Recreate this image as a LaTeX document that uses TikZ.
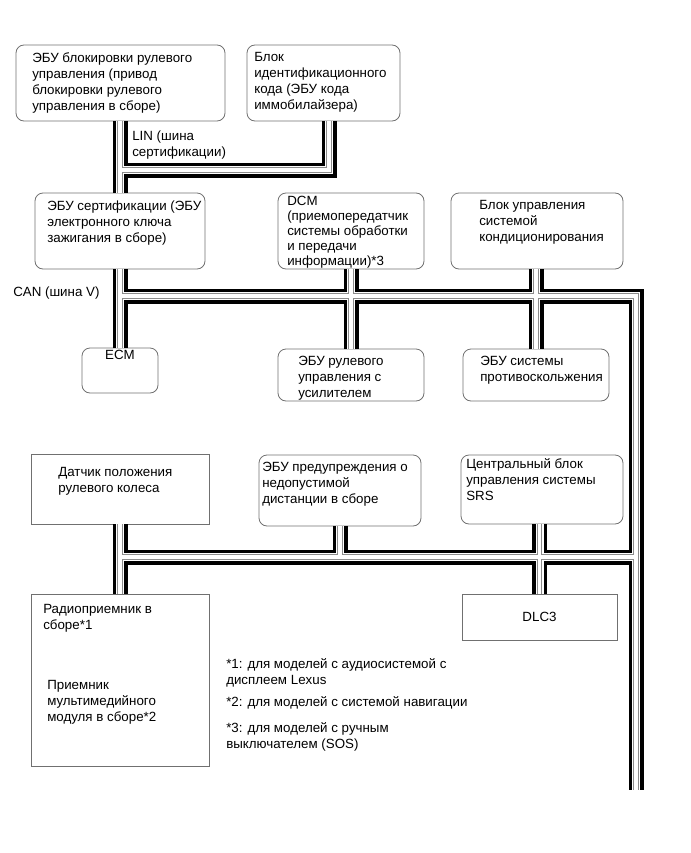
\documentclass[tikz,border=0pt]{standalone}
\usepackage{fontspec}
\setmainfont{Liberation Sans}
\usetikzlibrary{fit,positioning}
\definecolor{BoxGrey}{HTML}{707070}
\definecolor{WireGrey}{HTML}{8C8C8C}
\tikzset{
  ecu/.style={draw=BoxGrey,line width=0.6pt,rounded corners=6pt,inner sep=0pt},
  plainbox/.style={draw=BoxGrey,line width=0.6pt,inner sep=0pt},
  lbl/.style={font=\fontsize{10}{12}\selectfont,align=left,inner sep=0pt,anchor=north west},
}
\begin{document}
\begin{tikzpicture}[x=0.75pt,y=-0.75pt]
  \useasboundingbox (0,0) rectangle (690,853);
  % blocks
  \node[ecu,fit={(16,45) (225,121)}] (lock) {};
  \node[ecu,fit={(247,45) (400,121)}] (immo) {};
  \node[ecu,fit={(35,193) (205,269)}] (cert) {};
  \node[ecu,fit={(278,193) (424,269)}] (dcm) {};
  \node[ecu,fit={(451,193) (623,269)}] (clim) {};
  \node[ecu,fit={(82,348) (158,393)}] (ecm) {};
  \node[ecu,fit={(278,349) (424,401)}] (eps) {};
  \node[ecu,fit={(463,349) (609,401)}] (vsc) {};
  \node[plainbox,fit={(31,454) (209,524)}] (sas) {};
  \node[ecu,fit={(259,455) (421,526)}] (pcs) {};
  \node[ecu,fit={(461,455) (623,524)}] (srs) {};
  \node[plainbox,fit={(31,594) (209,766)}] (radio) {};
  \node[plainbox,fit={(462,594) (617,640)}] (dlc) {};
  % texts
  \node[lbl] (locktxt) at (32,52) {ЭБУ блокировки рулевого\\управления (привод\\блокировки рулевого\\управления в сборе)};
  \node[lbl] (immotxt) at (254,52) {Блок\\идентификационного\\кода (ЭБУ кода\\иммобилайзера)};
  \node[lbl] (lintxt) at (132,131) {LIN (шина\\сертификации)};
  \node[lbl] (certtxt) at (47,201) {ЭБУ сертификации (ЭБУ\\электронного ключа\\зажигания в сборе)};
  \node[lbl,font=\fontsize{10}{11.25}\selectfont] (dcmtxt) at (287,196) {DCM\\(приемопередатчик\\системы обработки\\и передачи\\информации)*3};
  \node[lbl] (climtxt) at (479,200) {Блок управления\\системой\\кондиционирования};
  \node[lbl] (cantxt) at (13,287) {CAN (шина V)};
  \node[lbl,anchor=north] (ecmtxt) at ([yshift=-1.5pt]ecm.north) {ECM};
  \node[lbl] (epstxt) at (298,356) {ЭБУ рулевого\\управления с\\усилителем};
  \node[lbl] (vsctxt) at (480,356) {ЭБУ системы\\противоскольжения};
  \node[lbl] (sastxt) at (58,467) {Датчик положения\\рулевого колеса};
  \node[lbl] (pcstxt) at (262,462) {ЭБУ предупреждения о\\недопустимой\\дистанции в сборе};
  \node[lbl] (srstxt) at (466,458) {Центральный блок\\управления системы\\SRS};
  \node[lbl] (radiotxt) at (43,604) {Радиоприемник в\\сборе*1};
  \node[lbl] (mmtxt) at (47,680) {Приемник\\мультимедийного\\модуля в сборе*2};
  \node[lbl,anchor=center] (dlctxt) at (dlc.center) {DLC3};
  \node[lbl] (note1) at (226,658) {*1: для моделей с аудиосистемой с\\дисплеем Lexus};
  \node[lbl] (note2) at (226,696) {*2: для моделей с системой навигации};
  \node[lbl] (note3) at (226,722) {*3: для моделей с ручным\\выключателем (SOS)};
  % bus wires
  \coordinate (immox) at (329,0);
  \coordinate (lin) at (120,170);
  \coordinate (can) at (120,296);
  \coordinate (canr) at (636,296);
  \coordinate (tail) at (636,790);
  \coordinate (low) at (120,557);
  \def\buswires{
    (lock.south -| ecm.north) -- (cert.north -| ecm.north)
    (immo.south -| immox) |- (lin)
    (cert.south -| ecm.north) -- (ecm.north)
    (can) -- (canr) -- (tail)
    (dcm.south) -- (dcm.south |- eps.north)
    (clim.south -| vsc.north) -- (vsc.north)
    (sas.south -| radio.north) -- (radio.north)
    (low) -- (low -| tail)
    (pcs.south) -- (pcs.south |- low)
    (srs.south -| dlc.north) -- (dlc.north)
  }
  \foreach \lw/\lc in {11.25pt/black,6pt/white,4.2pt/WireGrey,2.7pt/white}
    \draw[line width=\lw,\lc] \buswires;
\end{tikzpicture}
\end{document}
